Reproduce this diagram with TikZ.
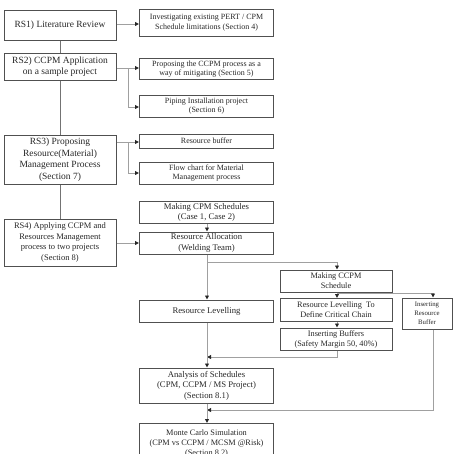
\documentclass[tikz,border=0pt]{standalone}
\usepackage{fontspec}
\setmainfont{Liberation Serif}
\usetikzlibrary{arrows.meta}
\definecolor{boxc}{HTML}{505050}
\definecolor{linec}{HTML}{A0A0A0}
\tikzset{
  bx/.style={draw=boxc, line width=1pt, align=center, inner sep=1pt, text=black!85},
  lbx/.style={bx, minimum width=112pt, font=\fontsize{9.5}{11.5}\selectfont},
  rbx/.style={bx, minimum width=134pt, font=\fontsize{8}{9.8}\selectfont},
  cbx/.style={bx, minimum width=112pt, font=\fontsize{8.3}{10}\selectfont},
  ln/.style={draw=linec, line width=0.8pt},
  spine/.style={draw=boxc!80, line width=0.9pt},
  ar/.style={ln, -{Triangle[length=4pt,width=3.8pt,fill=black!85,color=black!85]}},
}
\begin{document}
\begin{tikzpicture}[x=1pt,y=-1pt]
\useasboundingbox (0,0) rectangle (468,453);
\clip (0,0) rectangle (468,453);
% left column
\node[lbx, minimum height=30pt] (rs1) at (60,25) {RS1) Literature Review};
\node[lbx, minimum height=27pt] (rs2) at (60,66.5) {RS2) CCPM Application\\on a sample project};
\node[lbx, minimum height=49pt] (rs3) at (60,159.5) {RS3) Proposing\\Resource(Material)\\Management Process\\(Section 7)};
\node[lbx, minimum height=47pt, font=\fontsize{8.5}{10.5}\selectfont] (rs4) at (60,242.5) {RS4) Applying CCPM and\\Resources Management\\process to two projects\\(Section 8)};
% right column
\node[rbx, minimum height=27pt] (b1) at (206.5,22.5) {Investigating existing PERT / CPM\\Schedule limitations (Section 4)};
\node[rbx, minimum height=21pt] (b2) at (206.5,69) {Proposing the CCPM process as a\\way of mitigating (Section 5)};
\node[rbx, minimum height=22pt] (b3) at (206.5,106) {Piping Installation project\\(Section 6)};
\node[rbx, minimum height=14pt] (b4) at (206.5,141) {Resource buffer};
\node[rbx, minimum height=22pt] (b5) at (206.5,173) {Flow chart for Material\\Management process};
\node[rbx, minimum height=22pt, font=\fontsize{8.7}{10.3}\selectfont] (b6) at (206.5,212.5) {Making CPM Schedules\\(Case 1, Case 2)};
\node[rbx, minimum height=22pt, font=\fontsize{8.7}{10.3}\selectfont] (b7) at (206.5,243) {Resource Allocation\\(Welding Team)};
\node[rbx, minimum height=22pt, font=\fontsize{8.7}{10.3}\selectfont] (b8) at (206.5,311) {Resource Levelling};
\node[rbx, minimum height=35pt, font=\fontsize{8.7}{10.5}\selectfont] (b9) at (206.5,385.5) {Analysis of Schedules\\(CPM, CCPM / MS Project)\\(Section 8.1)};
\node[rbx, minimum height=40pt, font=\fontsize{8.3}{10.3}\selectfont, anchor=north] (b10) at (206.5,423) {Monte Carlo Simulation\\(CPM vs CCPM / MCSM @Risk)\\(Section 8.2)};
% CCPM column
\node[cbx, minimum height=22pt] (c1) at (336,281) {Making CCPM\\Schedule};
\node[cbx, minimum height=23pt] (c2) at (336,310) {Resource Levelling\enspace To\\Define Critical Chain};
\node[cbx, minimum height=22pt] (c3) at (336,339) {Inserting Buffers\\(Safety Margin 50, 40\%)};
\node[bx, minimum width=50pt, minimum height=31pt, font=\fontsize{6.8}{8.8}\selectfont] (c4) at (427,313.5) {Inserting\\Resource\\Buffer};
% connectors
\draw[spine] (rs1) -- (rs2);
\draw[spine] (rs2) -- (rs3);
\draw[spine] (rs3) -- (rs4);
\draw[ar] (rs1.east |- 0,24) -- (b1.west |- 0,24);
\coordinate (j2) at (128,68);
\draw[ln] (rs2.east |- j2) -- (j2);
\draw[ar] (j2) -- (b2.west |- j2);
\draw[ar] (j2) |- (b3.west |- 0,107);
\coordinate (j3) at (128,142);
\draw[ln] (rs3.east |- j3) -- (j3);
\draw[ar] (j3) -- (b4.west |- j3);
\draw[ar] (j3) |- (b5.west |- 0,173);
\draw[ar] (b6.south -| 207,0) -- (b7.north -| 207,0);
\draw[ar] (rs4.east |- 0,243) -- (b7.west |- 0,243);
\draw[ar] (b7.south -| 207,0) -- (b8.north -| 207,0);
\coordinate (j7) at (207,262);
\draw[ar] (j7) -| (c1.north -| 337,0);
\draw[ar] (c1.south -| 337,0) -- (c2.north -| 337,0);
\coordinate (jc) at (337,293);
\draw[ar] (jc) -| (c4.north -| 433,0);
\draw[ar] (c2.south -| 337,0) -- (c3.north -| 337,0);
\coordinate (ja) at (207,357);
\draw[ar] (c3.south -| 337,0) |- (ja);
\draw[ar] (b8.south -| 207,0) -- (b9.north -| 207,0);
\coordinate (jb) at (207,410);
\draw[ar] (c4.south -| 433,0) |- (jb);
\draw[ar] (b9.south -| 207,0) -- (b10.north -| 207,0);
\end{tikzpicture}
\end{document}
